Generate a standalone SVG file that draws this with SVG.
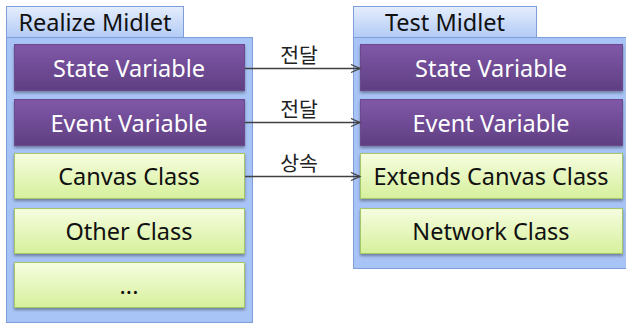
<svg xmlns="http://www.w3.org/2000/svg" width="626" height="325" viewBox="0 0 626 325">
<defs>
<linearGradient id="gPurple" x1="0" y1="0" x2="0" y2="1">
<stop offset="0" stop-color="#8058a8"/>
<stop offset="1" stop-color="#5f3f82"/>
</linearGradient>
<linearGradient id="gGreen" x1="0" y1="0" x2="0" y2="1">
<stop offset="0" stop-color="#f6fde0"/>
<stop offset="1" stop-color="#d6f09c"/>
</linearGradient>
<linearGradient id="gTab" x1="0" y1="0" x2="0" y2="1">
<stop offset="0" stop-color="#e4edfc"/>
<stop offset="1" stop-color="#b3cbf6"/>
</linearGradient>
<filter id="sh" x="-5%" y="-10%" width="110%" height="130%">
<feDropShadow dx="0" dy="2" stdDeviation="1.5" flood-color="#000" flood-opacity="0.35"/>
</filter>
<marker id="arr" markerWidth="12" markerHeight="12" refX="10" refY="5" orient="auto" markerUnits="userSpaceOnUse">
<path d="M1,1 L10,5 L1,9" fill="none" stroke="#404040" stroke-width="1.2"/>
</marker>
</defs>
<style>
.cont{fill:#a8c3f5;stroke:#7d9ed8;stroke-width:1}
.tab{fill:url(#gTab);stroke:#7d9ed8;stroke-width:1}
.pur{fill:url(#gPurple);stroke:#6a4a8e;stroke-width:1;filter:url(#sh)}
.grn{fill:url(#gGreen);stroke:#a3c865;stroke-width:1;filter:url(#sh)}
text{font-family:"Noto Sans","Noto Sans CJK KR",sans-serif;font-size:23.5px;text-anchor:middle}
.wt{fill:#ffffff}
.bk{fill:#111111}
.lbl{font-family:"Noto Sans CJK KR",sans-serif;font-size:20.5px;fill:#222}
.conn{stroke:#404040;stroke-width:1.3;fill:none;marker-end:url(#arr)}
</style>
<g id="realize-midlet">
<rect class="cont" x="6.5" y="37.5" width="246" height="285"/>
<rect class="tab" x="6.5" y="6.5" width="177" height="31"/>
<text class="bk" x="95" y="31">Realize Midlet</text>
</g>
<g id="test-midlet">
<rect class="cont" x="353.5" y="37.5" width="280" height="231"/>
<rect class="tab" x="353.5" y="6.5" width="183" height="31"/>
<text class="bk" x="445" y="31">Test Midlet</text>
</g>
<g id="r-state"><rect class="pur" x="14.5" y="44.5" width="230" height="46"/><text class="wt" x="129" y="77">State Variable</text></g>
<g id="r-event"><rect class="pur" x="14.5" y="99.5" width="230" height="46"/><text class="wt" x="129" y="132">Event Variable</text></g>
<g id="r-canvas"><rect class="grn" x="14.5" y="153.5" width="230" height="45"/><text class="bk" x="129" y="185">Canvas Class</text></g>
<g id="r-other"><rect class="grn" x="14.5" y="208.5" width="230" height="45"/><text class="bk" x="129" y="240">Other Class</text></g>
<g id="r-etc"><rect class="grn" x="14.5" y="262.5" width="230" height="45"/><text class="bk" x="129" y="294">...</text></g>
<g id="t-state"><rect class="pur" x="360.5" y="44.5" width="262" height="46"/><text class="wt" x="491" y="77">State Variable</text></g>
<g id="t-event"><rect class="pur" x="360.5" y="99.5" width="262" height="46"/><text class="wt" x="491" y="132">Event Variable</text></g>
<g id="t-canvas"><rect class="grn" x="360.5" y="153.5" width="262" height="45"/><text class="bk" x="491" y="185">Extends Canvas Class</text></g>
<g id="t-network"><rect class="grn" x="360.5" y="208.5" width="262" height="45"/><text class="bk" x="491" y="240">Network Class</text></g>
<g id="connectors">
<line class="conn" x1="245" y1="68.5" x2="360" y2="68.5"/>
<line class="conn" x1="245" y1="122.5" x2="360" y2="122.5"/>
<line class="conn" x1="245" y1="176.5" x2="360" y2="176.5"/>
<text class="lbl" x="299" y="63">전달</text>
<text class="lbl" x="299" y="117">전달</text>
<text class="lbl" x="299" y="171">상속</text>
</g>
</svg>
